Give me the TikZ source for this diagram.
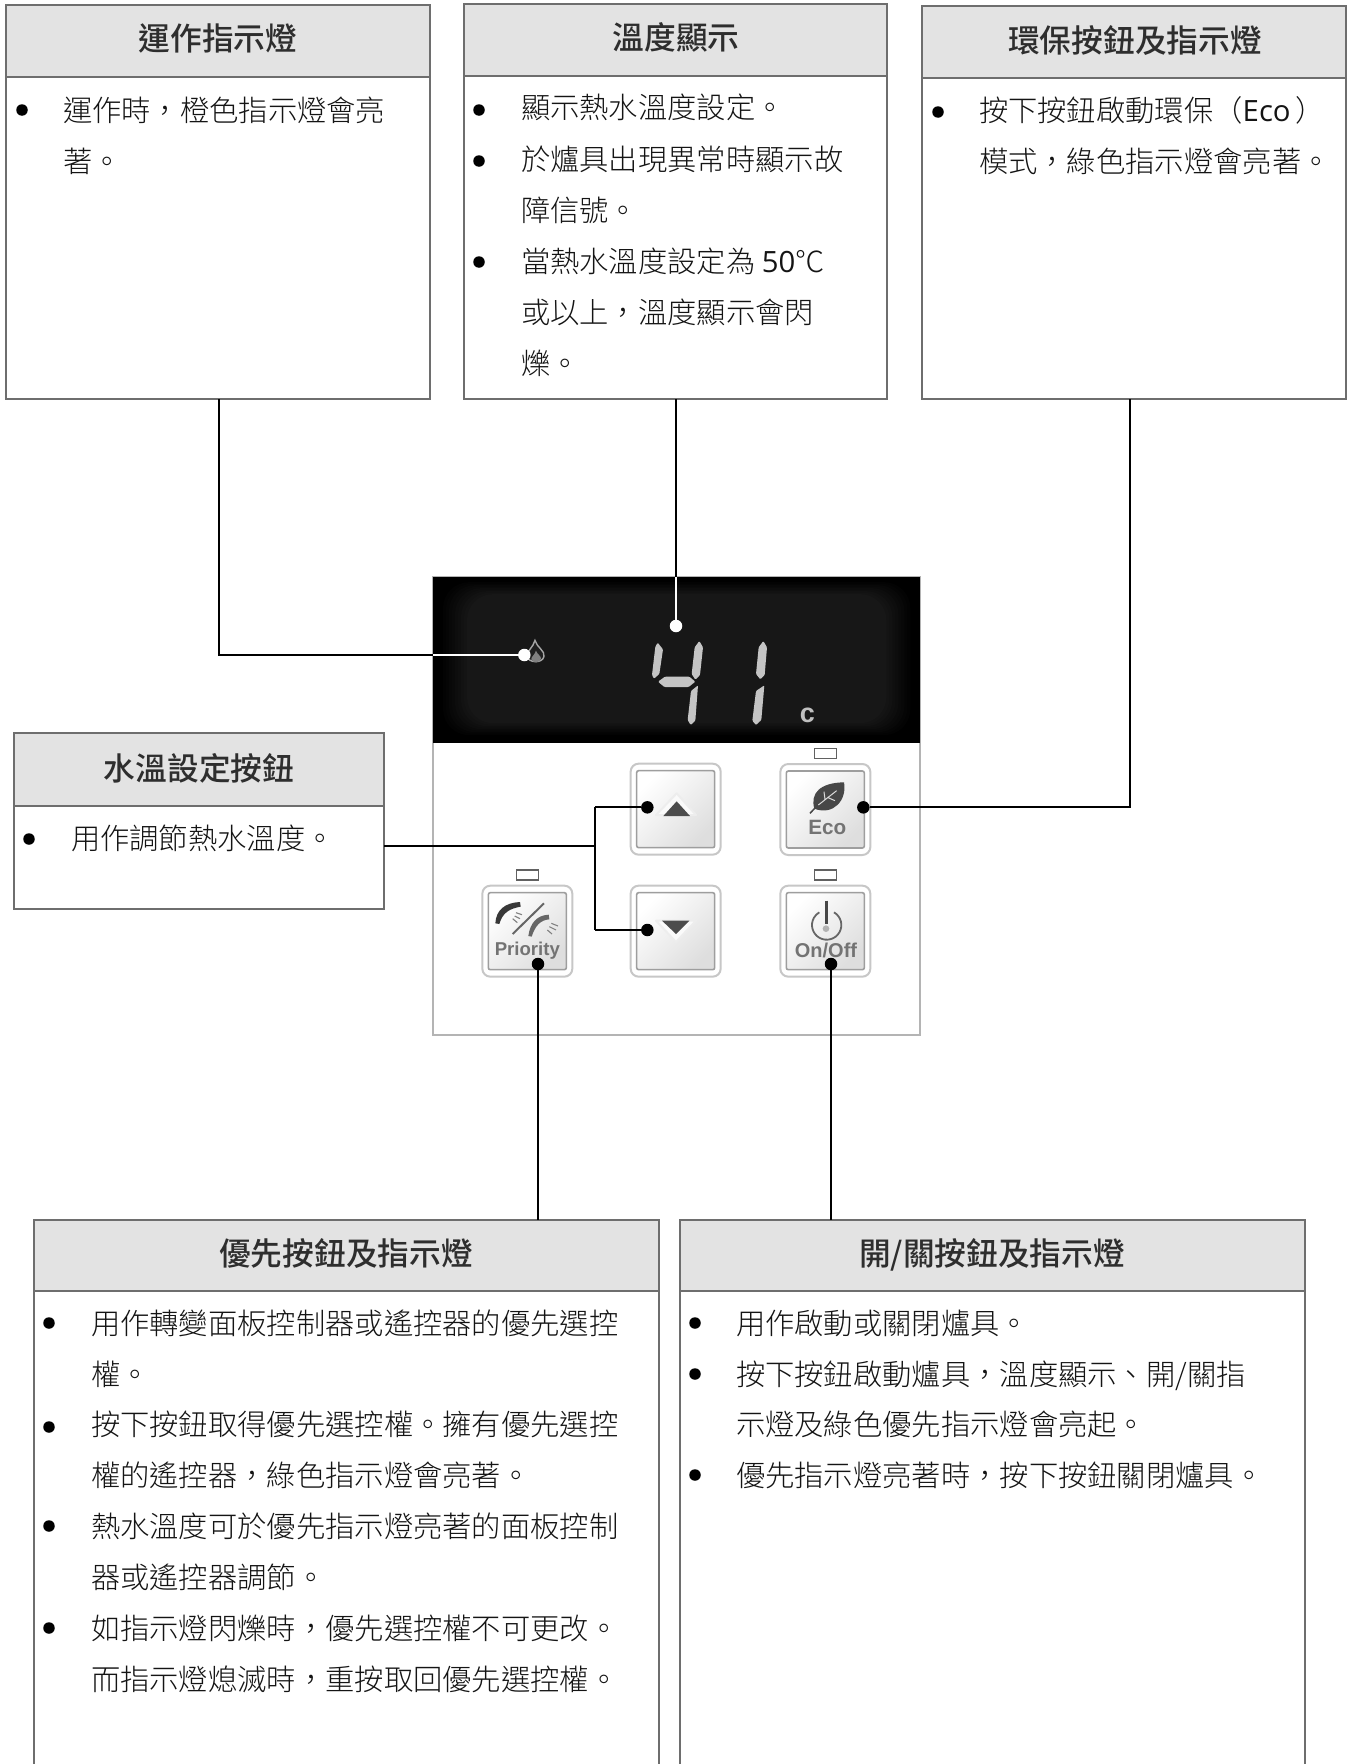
\documentclass[tikz,border=0pt]{standalone}
\usepackage{fontspec}
\setmainfont{Noto Sans CJK TC}[UprightFont=* Light,BoldFont=* Medium]
\newfontfamily\latfont{Open Sans}
\newfontfamily\btnfont{Liberation Sans}
\definecolor{boxline}{HTML}{6E6E6E}
\definecolor{headfill}{HTML}{E3E3E3}
\definecolor{panelline}{HTML}{B4B4B4}
\definecolor{seg}{HTML}{C4C4C4}
\definecolor{ico}{HTML}{666666}
\tikzset{
  boxbody/.style={draw=boxline,line width=2pt,fill=white,rectangle,inner sep=0pt,outer sep=0pt,anchor=north west},
  boxhead/.style={draw=boxline,line width=2pt,fill=headfill,rectangle,inner sep=0pt,outer sep=0pt,anchor=north west},
  titletext/.style={anchor=base,inner sep=0pt,outer sep=0pt,text=black!82,font=\fontsize{31.7}{31.7}\selectfont\bfseries},
  bodytext/.style={anchor=base west,inner sep=0pt,outer sep=0pt,text=black!92,font=\fontsize{29.3}{29.3}\selectfont},
  bulletdot/.style={circle,fill=black,inner sep=0pt,outer sep=0pt,minimum size=11.5pt},
  linkdot/.style={circle,fill=black,inner sep=0pt,outer sep=0pt,minimum size=12.5pt},
  whitedot/.style={circle,fill=white,inner sep=0pt,outer sep=0pt,minimum size=12.5pt},
  link/.style={line width=2pt,draw=black},
  whitelink/.style={line width=2pt,draw=white},
  btnouter/.style={rectangle,rounded corners=8pt,draw=black!22,line width=2pt,fill=white,inner sep=0pt,outer sep=0pt,minimum width=90pt,minimum height=91pt,anchor=north west},
  btninner/.style={rectangle,rounded corners=2pt,draw=black!38,line width=1.6pt,top color=white,bottom color=black!13,shading angle=45,inner sep=0pt,outer sep=0pt,minimum width=78pt,minimum height=77pt},
  lamp/.style={rectangle,draw=black!62,line width=1.3pt,fill=white,inner sep=0pt,outer sep=0pt,minimum width=22pt,minimum height=10pt},
  btntext/.style={inner sep=0pt,outer sep=0pt,text=black!55,font=\btnfont\bfseries},
  segment/.style={fill=seg,draw=none,rounded corners=1pt},
}
\newcommand{\infobox}[6]{%
  \node[boxbody,minimum width={#4-#2},minimum height={#5-#3}] (#1) at (#2,#3) {};
  \node[boxhead,minimum width={#4-#2},minimum height={#6-#3}] (#1h) at (#2,#3) {};
}
\newcommand{\ttl}[4]{\node[titletext] (#1) at (#2,#3+12) {#4};}
\newcommand{\bodyline}[4]{\node[bodytext] (#1) at (#2,#3+11) {#4};}
\newcommand{\bul}[3]{\node[bulletdot] (#1) at (#2,#3) {};}
\begin{document}
\begin{tikzpicture}[x=1pt,y=-1pt]
\useasboundingbox (0,0) rectangle (1349,1764);
\clip (0,0) rectangle (1349,1764);
\fill[white] (0,0) rectangle (1349,1764);

% ---------- boxes
\infobox{ba}{6}{5}{430}{399}{77}
\infobox{bb}{464}{4}{887}{399}{76}
\infobox{bc}{922}{6}{1346}{399}{78}
\infobox{bd}{14}{733}{384}{909}{806}
\infobox{be}{34}{1220}{659}{1800}{1291}
\infobox{bf}{680}{1220}{1305}{1800}{1291}

\ttl{ta}{218}{38}{運作指示燈}
\ttl{tb}{676}{37}{溫度顯示}
\ttl{tc}{1135}{40}{環保按鈕及指示燈}
\ttl{td}{199}{768}{水溫設定按鈕}
\ttl{te}{346}{1253}{優先按鈕及指示燈}
\ttl{tf}{992}{1253}{開/關按鈕及指示燈}

% box a
\bul{a1}{22}{110}
\bodyline{la1}{63}{110}{運作時，橙色指示燈會亮}
\bodyline{la2}{63}{161}{著。}
% box b
\bul{b1}{479}{110}\bul{b2}{479}{161}\bul{b3}{479}{262}
\bodyline{lb1}{521}{107}{顯示熱水溫度設定。}
\bodyline{lb2}{521}{159}{於爐具出現異常時顯示故}
\bodyline{lb3}{521}{210}{障信號。}
\bodyline{lb4}{521}{261}{當熱水溫度設定為 {\latfont 50}℃}
\bodyline{lb5}{521}{312}{或以上，溫度顯示會閃}
\bodyline{lb6}{521}{363}{爍。}
% box c
\bul{c1}{938}{112}
\bodyline{lc1}{979}{110}{按下按鈕啟動環保（{\latfont Eco}\,）}
\bodyline{lc2}{979}{161}{模式，綠色指示燈會亮著。}
% box d
\bul{d1}{29}{839}
\bodyline{ld1}{71}{838}{用作調節熱水溫度。}
% box e
\bul{e1}{49}{1323}\bul{e2}{49}{1427}\bul{e3}{49}{1526}\bul{e4}{49}{1628}
\bodyline{le1}{91}{1323}{用作轉變面板控制器或遙控器的優先選控}
\bodyline{le2}{91}{1374}{權。}
\bodyline{le3}{91}{1424}{按下按鈕取得優先選控權。擁有優先選控}
\bodyline{le4}{91}{1475}{權的遙控器，綠色指示燈會亮著。}
\bodyline{le5}{91}{1526}{熱水溫度可於優先指示燈亮著的面板控制}
\bodyline{le6}{91}{1577}{器或遙控器調節。}
\bodyline{le7}{91}{1628}{如指示燈閃爍時，優先選控權不可更改。}
\bodyline{le8}{91}{1679}{而指示燈熄滅時，重按取回優先選控權。}
% box f
\bul{f1}{695}{1323}\bul{f2}{695}{1374}\bul{f3}{695}{1475}
\bodyline{lf1}{736}{1323}{用作啟動或關閉爐具。}
\bodyline{lf2}{736}{1374}{按下按鈕啟動爐具，溫度顯示、開/關指}
\bodyline{lf3}{736}{1424}{示燈及綠色優先指示燈會亮起。}
\bodyline{lf4}{736}{1475}{優先指示燈亮著時，按下按鈕關閉爐具。}

% ---------- control panel, in zoom coordinates of the panel
\begin{scope}[shift={(420,560)},x=0.33333pt,y=-0.33333pt]
  \node[rectangle,draw=panelline,line width=2pt,fill=white,inner sep=0pt,outer sep=0pt,minimum width=487pt,minimum height=458pt,anchor=north west] (panel) at (39,52) {};
  \node[rectangle,fill=black,inner sep=0pt,outer sep=0pt,minimum width=487pt,minimum height=166pt,anchor=north west] (screen) at (39,52) {};
  \foreach \i in {0,...,9}{
    \pgfmathsetmacro{\gl}{\i*1.0}
    \fill[rounded corners=26pt,fill=white!\gl!black] (60+\i*9,62+\i*4.5) rectangle (1480-\i*9,530-\i*4.5);
  }
  % digits
  \fill[segment] (713,248)--(729,268)--(718,342)--(702,356)--(696,345)--(706,260)--cycle;
  \fill[segment] (714,365)--(735,350)--(808,350)--(826,365)--(806,381)--(733,381)--cycle;
  \fill[segment] (838,243)--(849,262)--(840,345)--(826,359)--(815,342)--(824,262)--cycle;
  \fill[segment] (834,376)--(826,482)--(812,495)--(803,480)--(813,393)--cycle;
  \fill[segment] (1030,243)--(1041,262)--(1034,345)--(1021,358)--(1008,342)--(1016,262)--cycle;
  \fill[segment] (1033,376)--(1024,480)--(1008,495)--(997,482)--(1008,393)--cycle;
  \node[inner sep=0pt,outer sep=0pt,text=black!25,font=\btnfont\bfseries\fontsize{27}{27}\selectfont] (unit) at (1162,466) {c};
  % flame
  \draw[draw=black!35,line width=1.4pt,fill=black!88] (345,241) .. controls (340,262) and (320,272) .. (322,290) .. controls (324,308) and (366,312) .. (372,290) .. controls (376,272) and (350,262) .. (345,241) -- cycle;
  \fill[black!50] (348,272) .. controls (344,285) and (332,292) .. (334,298) .. controls (338,310) and (360,310) .. (363,296) .. controls (364,288) and (352,284) .. (348,272) -- cycle;

  % lamps
  \node[lamp] (lampeco) at (1216,581) {};
  \node[lamp] (lampon) at (1216,945) {};
  \node[lamp] (lamppri) at (323,945) {};

  % buttons
  \node[btnouter] (up) at (632,611) {};
  \node[btninner] (upin) at (up.center) {};
  \node[btnouter] (down) at (632,977) {};
  \node[btninner] (downin) at (down.center) {};
  \node[btnouter] (eco) at (1081,612) {};
  \node[btninner] (ecoin) at (eco.center) {};
  \node[btnouter] (onoff) at (1081,977) {};
  \node[btninner] (onoffin) at (onoff.center) {};
  \node[btnouter] (prio) at (187,977) {};
  \node[btninner] (prioin) at (prio.center) {};

  % arrows on buttons
  \draw[draw=black!7,line width=2pt,line join=round,fill=black!2] (708,765) -- (770,700) -- (828,765) -- cycle;
  \fill[black!70] (730,768) -- (770,724) -- (810,768) -- cycle;
  \draw[draw=black!7,line width=2pt,line join=round,fill=black!2] (708,1082) -- (768,1146) -- (828,1082) -- cycle;
  \fill[black!70] (726,1082) -- (808,1082) -- (768,1122) -- cycle;

  % Eco
  \fill[black!72] (1183,746) .. controls (1170,700) and (1200,668) .. (1272,667) .. controls (1282,720) and (1240,768) .. (1183,746) -- cycle;
  \draw[black!72,line width=1.5pt] (1185,744) -- (1170,760);
  \draw[white!85!black,line width=1pt] (1195,735) -- (1250,692) (1215,718) -- (1212,695) (1222,712) -- (1245,722);
  \node[btntext,font=\btnfont\bfseries\fontsize{20.7}{20.7}\selectfont] (ecotxt) at (1222,802) {Eco};

  % On/Off
  \draw[ico,line width=1.8pt] (1242,1057) arc[start angle=300,end angle=600,radius=44];
  \draw[black!72,line width=3.5pt] (1220,1022) -- (1220,1092);
  \fill[black!30] (1218,1106) circle[radius=10];
  \node[btntext,font=\btnfont\bfseries\fontsize{20}{20}\selectfont] (ontxt) at (1218,1170) {On/Off};

  % Priority
  \draw[black!60,line width=2pt] (278,1122) -- (372,1030);
  \fill[black!78] (226,1090) .. controls (228,1050) and (255,1028) .. (300,1026) -- (302,1040) .. controls (268,1046) and (248,1058) .. (238,1092) -- cycle;
  \fill[black!60] (325,1128) .. controls (330,1090) and (350,1066) .. (386,1064) -- (388,1078) .. controls (362,1080) and (346,1096) .. (335,1130) -- cycle;
  \draw[black!50,line width=1.1pt] (288,1058) -- (306,1064) (284,1068) -- (300,1076) (278,1076) -- (292,1088)
                                  (394,1090) -- (414,1098) (388,1100) -- (408,1110) (382,1110) -- (396,1122);
  \node[btntext,font=\btnfont\bfseries\fontsize{18.6}{18.6}\selectfont] (pritxt) at (322,1172) {Priority};

  % connector dots and points
  \node[whitedot] (dflame) at (313,285) {};
  \node[whitedot] (dtemp) at (768,198) {};
  \node[linkdot] (dup) at (682,742) {};
  \node[linkdot] (ddown) at (682,1110) {};
  \node[linkdot] (deco) at (1330,742) {};
  \node[linkdot] (dprio) at (354,1212) {};
  \node[linkdot] (don) at (1233,1212) {};
  \coordinate (jmid) at (526,858);
  \coordinate (jup) at (526,742);
  \coordinate (jdown) at (526,1110);
\end{scope}

% ---------- connectors
\coordinate (ecoturn) at (1130,0);
\draw[link] ([xshift=1pt]ba.south) |- (dflame -| screen.west);
\draw[whitelink] (dflame -| screen.west) -- (dflame);
\draw[link] (dtemp |- bb.south) -- (dtemp |- screen.north);
\draw[whitelink] (dtemp |- screen.north) -- (dtemp);
\draw[link] (ecoturn |- bc.south) |- (deco);
\draw[link] (jmid -| bd.east) -- (jmid);
\draw[link,line cap=square] (jup) -- (jdown);
\draw[link] (jup) -- (dup);
\draw[link] (jdown) -- (ddown);
\draw[link] (dprio) -- (dprio |- be.north);
\draw[link] (don) -- (don |- bf.north);
\end{tikzpicture}
\end{document}
